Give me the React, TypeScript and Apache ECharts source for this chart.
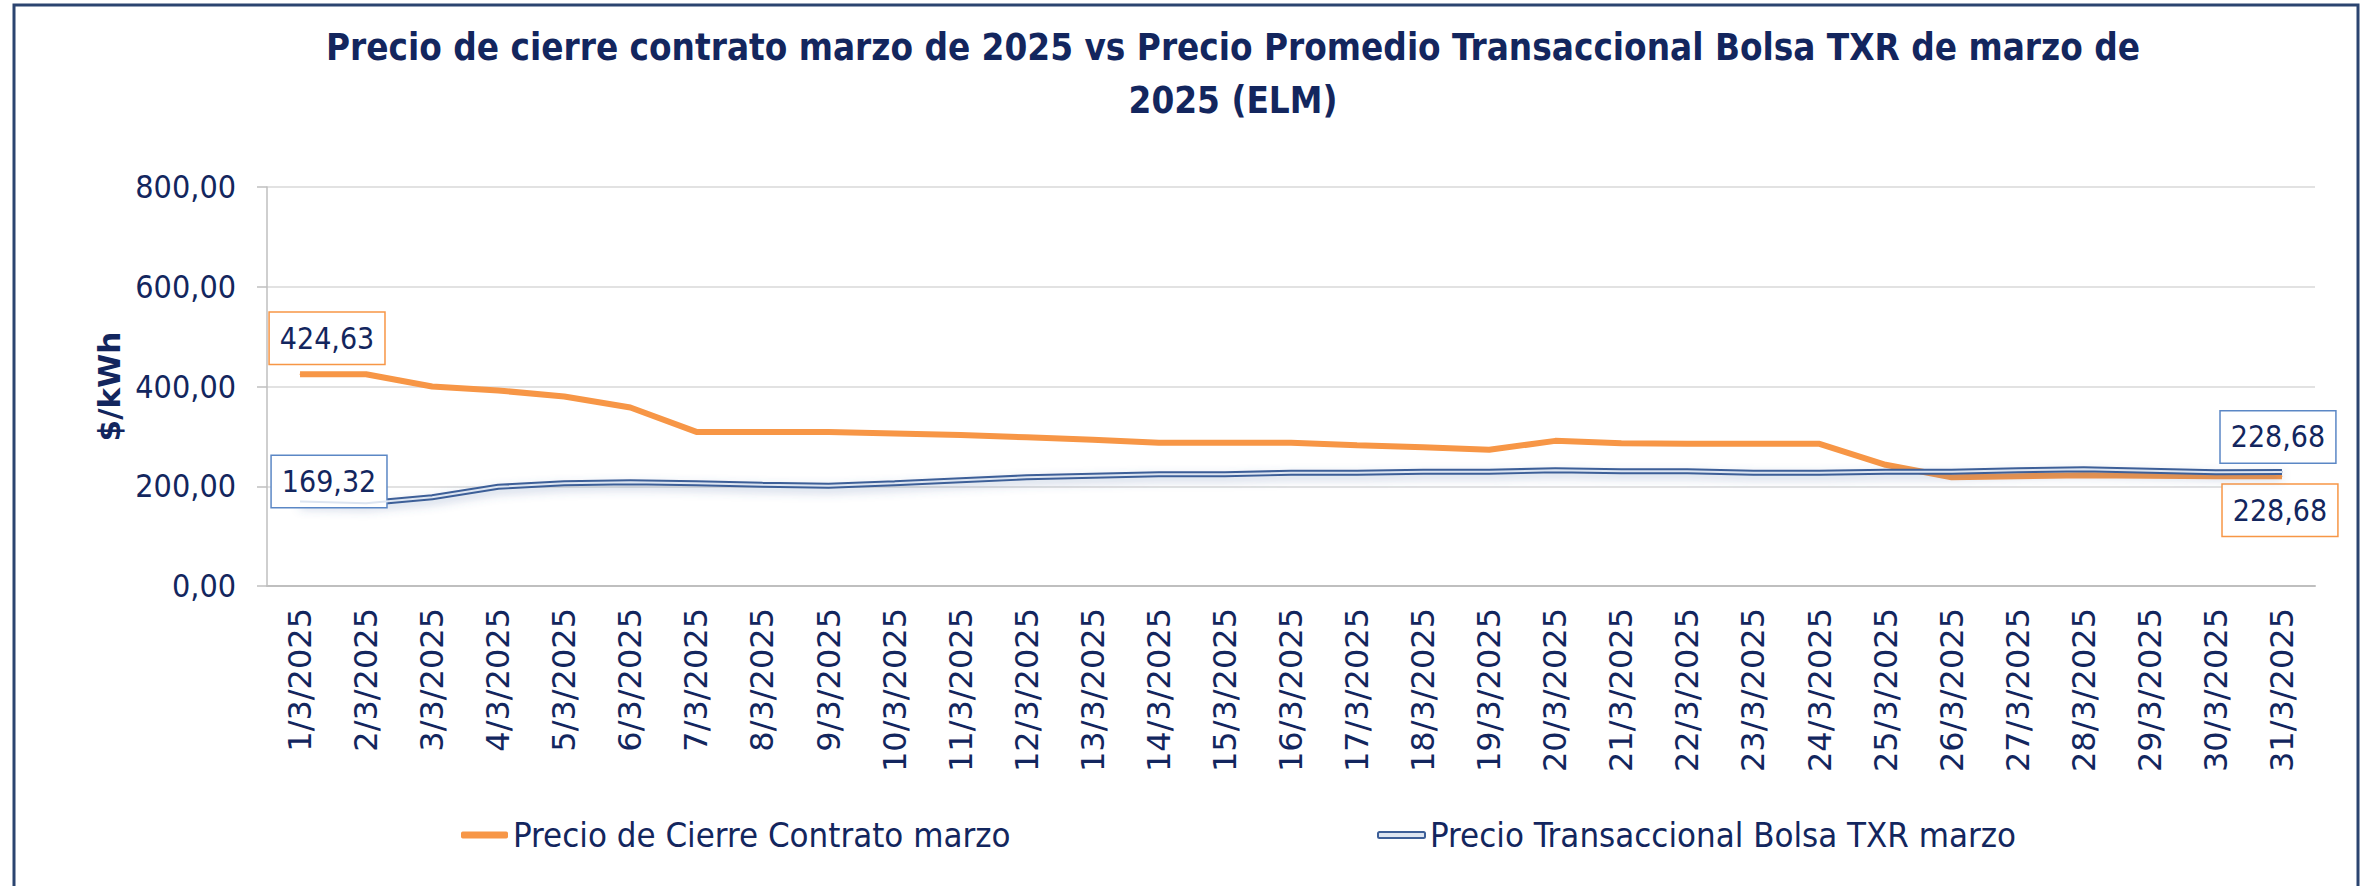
import React, { useEffect, useRef } from "react";
import * as echarts from "echarts";

const dates = [
  "1/3/2025", "2/3/2025", "3/3/2025", "4/3/2025", "5/3/2025", "6/3/2025", "7/3/2025", "8/3/2025",
  "9/3/2025", "10/3/2025", "11/3/2025", "12/3/2025", "13/3/2025", "14/3/2025", "15/3/2025", "16/3/2025",
  "17/3/2025", "18/3/2025", "19/3/2025", "20/3/2025", "21/3/2025", "22/3/2025", "23/3/2025", "24/3/2025",
  "25/3/2025", "26/3/2025", "27/3/2025", "28/3/2025", "29/3/2025", "30/3/2025", "31/3/2025",
];

const contractPrice = [
  424.63, 424.63, 400, 392, 380, 358, 309, 309, 309, 306, 303, 298, 293, 287, 287, 287,
  282, 278, 273, 291, 286, 285, 285, 285, 243, 218, 220, 222, 221, 220, 220,
];

const txrPrice = [
  169.32, 166, 178, 199, 206, 208, 206, 203, 201, 206, 212, 218, 221, 224, 224, 227,
  227, 229, 229, 232, 230, 230, 227, 227, 229, 229, 232, 234, 231, 228, 228.68,
];

const yTickLabels = ["0,00", "200,00", "400,00", "600,00", "800,00"];
const contractLastLabel = "228,68";

const seriesNames = ["Precio de Cierre Contrato marzo", "Precio Transaccional Bolsa TXR marzo"];
const titleText =
  "Precio de cierre contrato marzo de 2025 vs Precio Promedio Transaccional Bolsa TXR de marzo de\n2025 (ELM)";

const NAVY = "#13265E";
const ORANGE = "#F79646";
const BLUE_DARK = "#3D5F98";
const BLUE_LIGHT = "#DDE5F1";
const COND = "'DejaVu Sans Condensed', 'Liberation Sans Narrow', 'DejaVu Sans', sans-serif";

const fmt = (v: number) => v.toFixed(2).replace(".", ",");

function boxLabel(border: string, extra: any) {
  return {
    show: true,
    color: NAVY,
    fontFamily: COND,
    fontSize: 30,
    lineHeight: 31,
    backgroundColor: "#FFFFFF",
    borderColor: border,
    borderWidth: 1.5,
    padding: [10, 10],
    formatter: (p: any) => fmt(p.value),
    ...extra,
  };
}

export default function App() {
  const ref = useRef<HTMLDivElement>(null);

  useEffect(() => {
    if (!ref.current) return;
    const chart = echarts.init(ref.current, null, { renderer: "svg" });

    const lastIdx = dates.length - 1;

    const contractData = contractPrice.map((v, i) => {
      if (i === 0)
        return {
          value: v,
          symbol: "circle",
          symbolSize: 1,
          label: boxLabel(ORANGE, { position: "top", distance: 10, offset: [27, 0] }),
        };
      if (i === lastIdx)
        return {
          value: v,
          symbol: "circle",
          symbolSize: 1,
          label: boxLabel(ORANGE, {
            position: "bottom",
            distance: 8,
            offset: [-2, 0],
            formatter: () => contractLastLabel,
          }),
        };
      return v;
    });

    const txrData = txrPrice.map((v, i) => {
      if (i === 0)
        return {
          value: v,
          symbol: "circle",
          symbolSize: 1,
          label: boxLabel("#5B87C5", { position: "inside", offset: [29, -20] }),
        };
      if (i === lastIdx)
        return {
          value: v,
          symbol: "circle",
          symbolSize: 1,
          label: boxLabel("#5B87C5", { position: "top", distance: 9, offset: [-4, 0] }),
        };
      return v;
    });

    chart.setOption({
      animation: false,
      backgroundColor: "#FFFFFF",
      title: {
        text: titleText,
        left: 1233,
        textAlign: "center",
        top: 21,
        padding: 0,
        textStyle: {
          color: NAVY,
          fontFamily: COND,
          fontWeight: "bold",
          fontSize: 36.5,
          lineHeight: 53,
        },
      },
      graphic: [
        {
          type: "rect",
          shape: { x: 14, y: 5, width: 2344, height: 900 },
          style: { fill: "none", stroke: "#2B4470", lineWidth: 3 },
          silent: true,
          z: 100,
        },
      ],
      legend: [
        {
          left: 456,
          top: 811,
          itemWidth: 47,
          itemHeight: 7,
          data: [{ name: seriesNames[0], icon: "roundRect", itemStyle: { color: ORANGE } }],
          textStyle: { color: NAVY, fontFamily: COND, fontSize: 34.5, lineHeight: 38 },
        },
        {
          left: 1372,
          top: 811,
          itemWidth: 47,
          itemHeight: 6,
          data: [
            {
              name: seriesNames[1],
              icon: "roundRect",
              itemStyle: { color: BLUE_LIGHT, borderColor: BLUE_DARK, borderWidth: 2 },
            },
          ],
          textStyle: { color: NAVY, fontFamily: COND, fontSize: 34.5, lineHeight: 38 },
        },
      ],
      grid: { left: 267, right: 49, top: 187, bottom: 300, containLabel: false },
      xAxis: {
        type: "category",
        data: dates,
        boundaryGap: true,
        axisLine: { show: true, lineStyle: { color: "#BFBFBF", width: 2 } },
        axisTick: { show: false },
        axisLabel: {
          rotate: 90,
          interval: 0,
          margin: 22,
          color: NAVY,
          fontFamily: "'DejaVu Sans', sans-serif",
          fontSize: 32,
        },
      },
      yAxis: {
        type: "value",
        min: 0,
        max: 800,
        interval: 200,
        name: "$/kWh",
        nameLocation: "middle",
        nameGap: 140,
        nameTextStyle: {
          color: NAVY,
          fontFamily: "'DejaVu Sans', sans-serif",
          fontWeight: "bold",
          fontSize: 31,
        },
        axisLine: { show: true, lineStyle: { color: "#BFBFBF", width: 1.5 } },
        axisTick: { show: true, length: 10, lineStyle: { color: "#BFBFBF", width: 1.5 } },
        splitLine: { show: true, lineStyle: { color: "#D9D9D9", width: 1.5 } },
        axisLabel: {
          margin: 31,
          color: NAVY,
          fontFamily: COND,
          fontSize: 32,
          formatter: (v: number) => yTickLabels[Math.round(v / 200)],
        },
      },
      series: [
        {
          name: seriesNames[0],
          type: "line",
          data: contractData,
          symbol: "none",
          showSymbol: true,
          color: ORANGE,
          lineStyle: { color: ORANGE, width: 6 },
          itemStyle: { color: ORANGE },
          z: 2,
        },
        {
          name: seriesNames[1],
          type: "line",
          data: txrData,
          symbol: "none",
          showSymbol: true,
          color: BLUE_DARK,
          lineStyle: {
            color: BLUE_DARK,
            width: 6,
            shadowBlur: 10,
            shadowColor: "rgba(70,100,160,0.30)",
            shadowOffsetY: 4,
          },
          itemStyle: { color: BLUE_DARK },
          z: 3,
        },
        {
          name: "txr-inner",
          type: "line",
          data: txrPrice,
          symbol: "none",
          showSymbol: false,
          silent: true,
          lineStyle: { color: BLUE_LIGHT, width: 2 },
          z: 4,
        },
      ],
    });

    return () => chart.dispose();
  }, []);

  return (
    <div
      ref={ref}
      style={{ position: "fixed", left: 0, top: 0, width: 2364, height: 886, background: "#fff" }}
    />
  );
}
